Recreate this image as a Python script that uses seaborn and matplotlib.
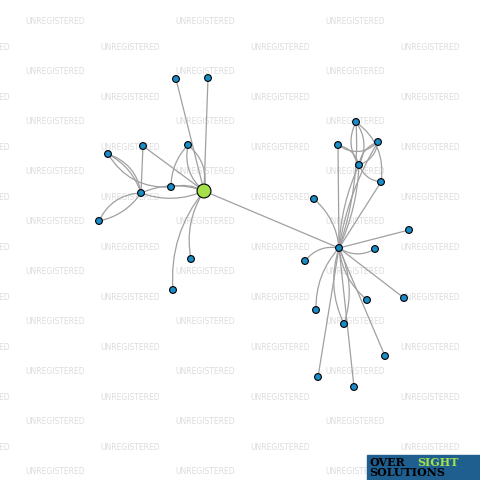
import matplotlib
matplotlib.use("Agg")
import matplotlib.pyplot as plt
import seaborn as sns
import pandas as pd

node_x = [204, 176, 208, 143, 108, 188, 171, 141, 99, 191, 173,
          339, 356, 338, 378, 359, 381, 314, 409, 375, 305, 404, 367, 316, 344, 385, 318, 354]
node_y = [191, 79, 78, 146, 154, 145, 187, 193, 221, 259, 290,
          248, 122, 145, 142, 165, 182, 199, 230, 249, 261, 298, 300, 310, 324, 356, 377, 387]
node_kind = ["main"] + ["other"] * 27
edges = [(0, 1, 0), (0, 2, 0), (0, 3, 0), (0, 5, 0.3), (0, 5, -0.3), (0, 6, 0.2), (0, 7, 0.2), (0, 7, -0.2),
         (0, 9, 0.2), (0, 10, 0.2), (0, 11, 0), (7, 4, 0.2), (7, 3, 0), (7, 8, 0.3), (7, 8, -0.2),
         (4, 6, 0.3), (4, 7, -0.3), (5, 6, 0.2),
         (11, 12, 0.1), (11, 13, 0), (11, 14, -0.1), (11, 15, 0.1), (11, 15, -0.1), (11, 16, 0),
         (11, 17, 0.2), (11, 18, 0), (11, 19, 0.3), (11, 20, 0.3), (11, 21, 0), (11, 22, 0.2),
         (11, 23, 0.2), (11, 24, -0.2), (11, 24, 0.2), (11, 25, 0), (11, 26, 0), (11, 27, 0),
         (15, 12, 0.3), (15, 12, -0.3), (15, 13, 0.3), (15, 14, 0.3), (15, 14, -0.3), (15, 16, 0.3),
         (13, 14, 0.4), (12, 16, -0.3)]

fig = plt.figure(figsize=(4.8, 4.8), dpi=100)
ax = fig.add_axes([0, 0, 1, 1])

for r, y in enumerate(range(22, 480, 25)):
    xs = [55, 205, 355] if r % 2 == 0 else [-20, 130, 280, 430]
    for x in xs:
        ax.text(x, y, "UNREGISTERED", fontsize=5.5, color="#dcdcdc", ha="center", va="center", zorder=0)

for a, b, rad in edges:
    ax.annotate("", xy=(node_x[b], node_y[b]), xytext=(node_x[a], node_y[a]),
                arrowprops=dict(arrowstyle="-", color="#a0a0a0", lw=0.9,
                                connectionstyle=f"arc3,rad={rad}", shrinkA=0, shrinkB=0), zorder=1)

df = pd.DataFrame({"x": node_x, "y": node_y, "kind": node_kind})
sns.scatterplot(data=df, x="x", y="y", hue="kind", size="kind",
                palette={"main": "#a4e04a", "other": "#1a8cc8"}, sizes={"main": 100, "other": 24},
                edgecolor="black", linewidth=0.8, legend=False, ax=ax, zorder=3)
ax.set_xlim(0, 480)
ax.set_ylim(480, 0)
ax.axis("off")

ax.add_patch(plt.Rectangle((367, 455), 113, 25, color="#1f5f8f", zorder=4))
ax.text(369, 462, "OVER", fontsize=8, fontweight="bold", color="black", va="center", family="DejaVu Serif", zorder=5)
ax.text(417, 462, "SIGHT", fontsize=8, fontweight="bold", color="#a4e04a", va="center", family="DejaVu Serif", zorder=5)
ax.text(369, 473, "SOLUTIONS", fontsize=8, fontweight="bold", color="black", va="center", family="DejaVu Serif", zorder=5)

fig.savefig("out.png", dpi=100)
